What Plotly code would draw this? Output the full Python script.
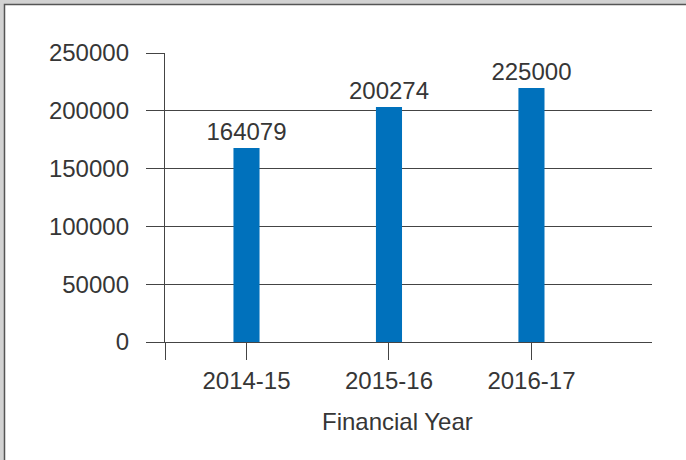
import plotly.graph_objects as go

categories = ["2014-15", "2015-16", "2016-17"]
bar_values = [167800, 203300, 219700]      # bar heights as drawn
value_labels = ["164079", "200274", "225000"]  # printed labels
y_ticks = [0, 50000, 100000, 150000, 200000, 250000]

W, H = 686, 460
L, R, T, B = 165, 34, 53, 118
pw, ph = W - L - R, H - T - B

def px_x(px):
    return (px - L) / pw

def px_y(py):
    return (H - B - py) / ph

xpos = list(range(len(categories)))
grid_col = "#444444"
txt_col = "#363636"
font_family = "Liberation Sans, Arial, sans-serif"
fs = 24

fig = go.Figure()
fig.add_trace(go.Bar(
    x=xpos, y=bar_values, width=0.183,
    marker=dict(color="#0071BC", line=dict(width=0)),
    text=value_labels, textposition="outside", cliponaxis=False,
    constraintext="none",
    textfont=dict(family=font_family, size=fs, color=txt_col),
    hoverinfo="skip",
))

fig.update_layout(
    width=W, height=H,
    margin=dict(l=L, r=R, t=T, b=B),
    paper_bgcolor="white", plot_bgcolor="white",
    showlegend=False,
    font=dict(family=font_family, size=fs, color=txt_col),
    xaxis=dict(
        range=[-0.572, 2.846],
        tickvals=[-0.572] + xpos,
        ticktext=[""] + categories,
        ticks="outside", ticklen=17, tickwidth=1.4, tickcolor=grid_col,
        showline=True, linecolor=grid_col, linewidth=1.4,
        showgrid=False, zeroline=False,
        tickfont=dict(family=font_family, size=fs, color=txt_col),
    ),
    yaxis=dict(
        range=[0, 250000],
        tickvals=y_ticks,
        ticktext=[str(v) for v in y_ticks],
        ticks="outside", ticklen=18, tickwidth=1.4, tickcolor=grid_col,
        showline=True, linecolor=grid_col, linewidth=1.4,
        showgrid=True, gridcolor=grid_col, gridwidth=1.4,
        zeroline=False,
        ticklabelstandoff=12,
        tickfont=dict(family=font_family, size=fs, color=txt_col),
    ),
    shapes=[
        # outer gray frame
        dict(type="rect", xref="paper", yref="paper", layer="below",
             x0=px_x(-5), x1=px_x(W + 5), y0=px_y(H + 5), y1=px_y(-5),
             fillcolor="#d2d2d2", line=dict(width=0)),
        dict(type="rect", xref="paper", yref="paper", layer="below",
             x0=px_x(4.5), x1=px_x(W + 5), y0=px_y(H + 5), y1=px_y(4.5),
             fillcolor="white", line=dict(color="#555555", width=1.5)),
    ],
    annotations=[
        dict(text="Financial Year", xref="paper", yref="paper",
             x=px_x(397), y=px_y(421), xanchor="center", yanchor="middle",
             showarrow=False,
             font=dict(family=font_family, size=fs, color=txt_col)),
    ],
)

fig.write_html("out.html")
